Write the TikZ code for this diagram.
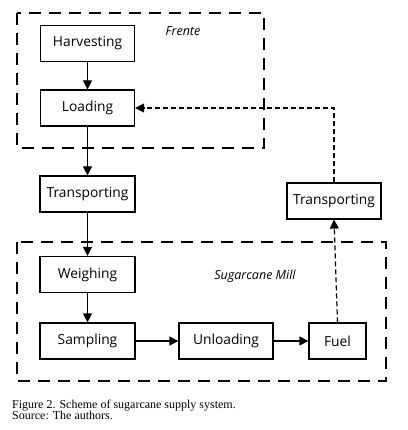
\documentclass[tikz,border=0pt]{standalone}
\usepackage{fontspec}
\setmainfont{Liberation Serif}
\newfontfamily\boxfont{Open Sans}
\usetikzlibrary{arrows.meta}
\begin{document}
\begin{tikzpicture}[x=1pt,y=-1pt,
  stepbox/.style={draw,line width=1.2pt,minimum height=36pt,inner sep=0pt,font=\boxfont\fontsize{13.8}{15}\selectfont},
  flow/.style={line width=1.2pt,-{Triangle[length=9pt,width=9pt]}},
  dflow/.style={line width=1.2pt,dash pattern=on 5pt off 3pt,-{Triangle[length=9pt,width=9pt]}},
  group/.style={line width=1.2pt,dash pattern=on 12pt off 8pt},
  grouplabel/.style={font=\boxfont\itshape\fontsize{12.5}{14}\selectfont}]
\useasboundingbox (0,0) rectangle (407,430);
\fill[white] (0,0) rectangle (407,430);
% groups
\draw[group] (17,13) rectangle (264,148);
\draw[group] (17,242) rectangle (386,381);
\node[grouplabel] (frente) at (183,31) {Frente};
\node[grouplabel] (mill) at (255,276) {Sugarcane Mill};
% boxes
\node[stepbox,minimum width=94pt] (harv) at (87.5,43.5) {Harvesting};
\node[stepbox,minimum width=94pt] (load) at (87.5,108) {Loading};
\node[stepbox,minimum width=95pt] (trans1) at (87.5,194) {Transporting};
\node[stepbox,minimum width=94pt] (trans2) at (334,201) {Transporting};
\node[stepbox,minimum width=95pt] (weigh) at (87.5,274.5) {Weighing};
\node[stepbox,minimum width=95pt] (samp) at (87.5,341) {Sampling};
\node[stepbox,minimum width=94pt] (unload) at (226,341) {Unloading};
\node[stepbox,minimum width=57pt] (fuel) at (337.5,341) {Fuel};
% connectors
\draw[flow] (harv) -- (load);
\draw[flow] (load) -- (trans1);
\draw[flow] (trans1) -- (weigh);
\draw[flow] (weigh) -- (samp);
\draw[flow] (samp) -- (unload);
\draw[flow] (unload) -- (fuel);
\draw[dflow] (fuel.north) -- (trans2.south);
\draw[dflow] (trans2.north) |- (load.east);
% caption
\node[anchor=base west,inner sep=0pt,font=\fontsize{12}{14}\selectfont] (cap1) at (12,408) {Figure 2. Scheme of sugarcane supply system.};
\node[anchor=base west,inner sep=0pt,font=\fontsize{12}{14}\selectfont] (cap2) at (12,419.5) {Source: The authors.};
\end{tikzpicture}
\end{document}
